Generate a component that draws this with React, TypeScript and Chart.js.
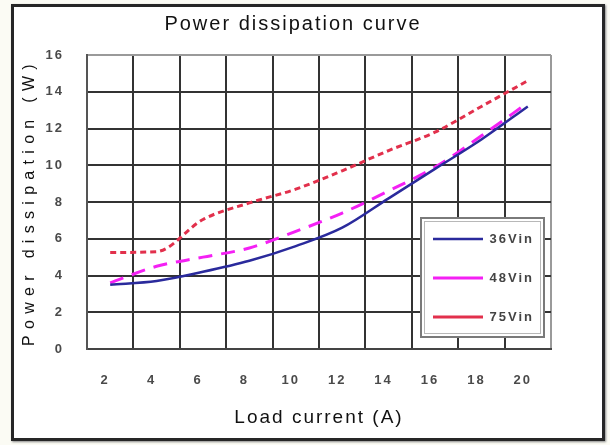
import React, { useEffect, useRef } from "react";
import { Chart, registerables } from "chart.js";

Chart.register(...registerables);

// ---- data ----
const categories = ["2", "4", "6", "8", "10", "12", "14", "16", "18", "20"];
const series36Vin = [3.5, 3.7, 4.2, 4.8, 5.6, 6.6, 8.2, 9.8, 11.4, 13.2];
const series48Vin = [3.6, 4.5, 5.0, 5.5, 6.4, 7.4, 8.6, 9.9, 11.6, 13.4];
const series75Vin = [5.25, 5.3, 7.05, 7.95, 8.7, 9.7, 10.8, 11.8, 13.2, 14.6];
const seriesNames = ["36Vin", "48Vin", "75Vin"];
const yMin = 0;
const yMax = 16;
const yStep = 2;
const chartTitle = "Power dissipation curve";
const xTitle = "Load current (A)";
const yTitle = "Power dissipation (W)";

const FONT = "'Liberation Sans', Arial, sans-serif";

const refStylePlugin = {
  id: "refStyle",
  beforeLayout(chart: any) {
    chart.ctx.letterSpacing = "2px";
    const lg = chart.legend;
    if (lg && !lg.__fitPatched) {
      const origFit = lg.fit.bind(lg);
      lg.fit = () => {
        origFit();
        lg.__w = lg.width;
        lg.__h = lg.height;
        lg.width = 0;
      };
      lg.__fitPatched = true;
    }
  },
  afterLayout(chart: any) {
    const ca = chart.chartArea;
    const t = chart.titleBlock;
    if (t) {
      t.left = 0;
      t.right = 586;
    }
    const lg = chart.legend;
    if (lg) {
      const w = lg.__w || 150;
      const h = lg.__h || 140;
      lg.left = ca.right - 144;
      lg.top = ca.top + 151.5;
      lg.width = w;
      lg.height = h;
      lg.right = lg.left + w;
      lg.bottom = lg.top + h;
    }
  },
  beforeDraw(chart: any) {
    const ctx = chart.ctx;
    ctx.letterSpacing = "2px";
    const ys = chart.scales.y;
    if (ys && !ys.__spaced) {
      const orig = ys.drawTitle.bind(ys);
      ys.drawTitle = () => {
        const prev = ctx.letterSpacing;
        ctx.letterSpacing = "6.3px";
        orig();
        ctx.letterSpacing = prev;
      };
      ys.__spaced = true;
    }
    const lg = chart.legend;
    if (lg && !lg.__boxed) {
      const origDraw = lg.draw.bind(lg);
      lg.draw = (area: any) => {
        const ca = chart.chartArea;
        const bx = ca.right - 130;
        const by = ca.top + 163;
        const bw = 123;
        const bh = 119;
        ctx.save();
        ctx.fillStyle = "#ffffff";
        ctx.fillRect(bx, by, bw, bh);
        ctx.lineWidth = 2;
        ctx.strokeStyle = "#7a7a7a";
        ctx.strokeRect(bx, by, bw, bh);
        ctx.lineWidth = 1;
        ctx.strokeStyle = "#b8b8b8";
        ctx.strokeRect(bx + 3.5, by + 3.5, bw - 7, bh - 7);
        ctx.restore();
        origDraw(area);
      };
      lg.__boxed = true;
    }
  },
};

export default function App() {
  const ref = useRef<HTMLCanvasElement>(null);

  useEffect(() => {
    const canvas = ref.current;
    if (!canvas) return;
    const dark = "#333333";
    const edge = "#9a9a9a";
    let chart: any = null;
    try {
      chart = new Chart(canvas, {
        type: "line",
        data: {
          labels: categories,
          datasets: [
            {
              label: seriesNames[0],
              data: series36Vin,
              borderColor: "#2a2a9c",
              backgroundColor: "#2a2a9c",
              borderWidth: 2.5,
              pointRadius: 0,
              cubicInterpolationMode: "monotone",
            },
            {
              label: seriesNames[1],
              data: series48Vin,
              borderColor: "#f420f4",
              backgroundColor: "#f420f4",
              borderWidth: 3,
              borderDash: [14, 9],
              pointRadius: 0,
              cubicInterpolationMode: "monotone",
            },
            {
              label: seriesNames[2],
              data: series75Vin,
              borderColor: "#e2304c",
              backgroundColor: "#e2304c",
              borderWidth: 3,
              borderDash: [6, 4],
              pointRadius: 0,
              cubicInterpolationMode: "monotone",
            },
          ],
        },
        options: {
          responsive: false,
          animation: false,
          layout: { padding: { left: 12, right: 59, top: 4, bottom: 12 } },
          plugins: {
            title: {
              display: true,
              text: chartTitle,
              color: "#111",
              font: { family: FONT, size: 20, weight: "normal" },
              padding: { top: 8, bottom: 19 },
            },
            legend: {
              display: true,
              position: "right",
              align: "start",
              labels: {
                usePointStyle: true,
                pointStyle: "line",
                pointStyleWidth: 50,
                padding: 26,
                color: "#444",
                font: { family: FONT, size: 13, weight: "bold" },
              },
            },
            tooltip: { enabled: false },
          },
          scales: {
            x: {
              type: "category",
              offset: true,
              afterFit: (s: any) => {
                s.height = 84;
              },
              grid: {
                offset: true,
                drawTicks: false,
                lineWidth: 2,
                color: (c: any) => (c.tick ? dark : edge),
              },
              border: { display: true, color: "#444", width: 2 },
              ticks: {
                padding: 24,
                labelOffset: -5,
                color: "#4a4a4a",
                font: { family: FONT, size: 13, weight: "bold" },
              },
              title: {
                display: true,
                text: xTitle,
                color: "#111",
                font: { family: FONT, size: 19, weight: "normal" },
                padding: { top: 18, bottom: 4 },
              },
            },
            y: {
              type: "linear",
              min: yMin,
              max: yMax,
              afterFit: (s: any) => {
                s.width = 75;
              },
              grid: {
                drawTicks: false,
                lineWidth: 2,
                color: (c: any) => (c.tick && c.tick.value === yMax ? edge : dark),
              },
              border: { display: true, color: "#555", width: 2 },
              ticks: {
                stepSize: yStep,
                padding: 23,
                color: "#4a4a4a",
                font: { family: FONT, size: 13, weight: "bold" },
              },
              title: {
                display: true,
                text: yTitle,
                color: "#111",
                font: { family: FONT, size: 16, weight: "normal" },
                padding: { top: 8.4, bottom: 4 },
              },
            },
          },
        },
        plugins: [refStylePlugin],
      } as any);
    } catch (e) {
      // keep the page alive if drawing fails
    }
    return () => {
      try {
        chart && chart.destroy();
      } catch (e) {}
    };
  }, []);

  return (
    <div style={{ position: "fixed", left: 0, top: 0, width: 610, height: 445, background: "#fbfbf4", overflow: "hidden" }}>
      <div
        style={{
          position: "absolute",
          left: 11,
          top: 4,
          width: 594,
          height: 437,
          boxSizing: "border-box",
          border: "3px solid #262626",
          background: "#ffffff",
          boxShadow: "1px 1px 2px #888",
        }}
      />
      <canvas ref={ref} width={610} height={445} style={{ position: "absolute", left: 0, top: 0, width: 610, height: 445 }} />
    </div>
  );
}
